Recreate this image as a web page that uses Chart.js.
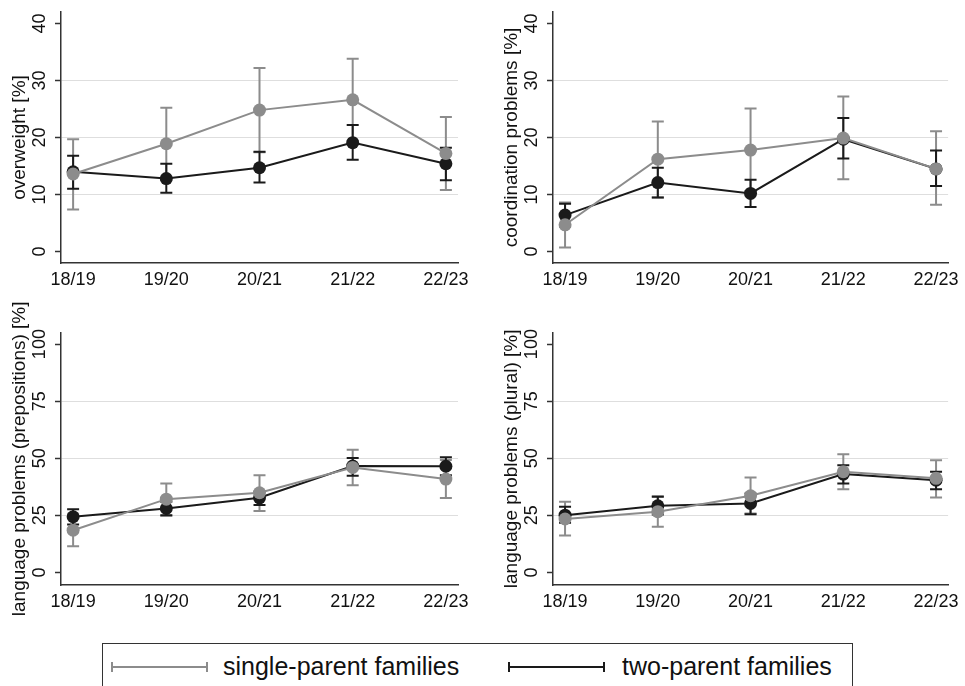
<!DOCTYPE html>
<html>
<head>
<meta charset="utf-8">
<script src="https://cdn.jsdelivr.net/npm/chart.js@4.4.1/dist/chart.umd.min.js"></script>
<style>
  body { margin: 0; width: 965px; height: 686px; background: #fff; position: relative; overflow: hidden;
         font-family: "Liberation Sans", Arial, sans-serif; }
  canvas { position: absolute; }
  #legendBox { position: absolute; left: 102px; top: 643px; width: 749px; height: 60px; border: 1.5px solid #333; }
  .key { position: absolute; height: 2px; width: 97px; top: 666px; }
  .key::before, .key::after { content: ""; position: absolute; top: -4px; width: 2px; height: 10px; background: inherit; }
  .key::before { left: 0; }
  .key::after { right: 0; }
  .keyText { position: absolute; top: 654px; font-size: 25px; line-height: 25px; color: #111; white-space: nowrap; }
</style>
</head>
<body>

<canvas id="c1" width="482" height="300" style="left:0;top:0"></canvas>
<canvas id="c2" width="483" height="300" style="left:482px;top:0"></canvas>
<canvas id="c3" width="482" height="320" style="left:0;top:300px"></canvas>
<canvas id="c4" width="483" height="320" style="left:482px;top:300px"></canvas>

<div id="legendBox"></div>
<div class="key" style="left:111px;background:#8c8c8c"></div>
<div class="keyText" style="left:223px">single-parent families</div>
<div class="key" style="left:508px;background:#1a1a1a"></div>
<div class="keyText" style="left:622px">two-parent families</div>

<script>
/* ==========================================
   DATA
========================================== */

const seasons = ["18/19", "19/20", "20/21", "21/22", "22/23"];

const ticksSmall = [0, 10, 20, 30, 40];
const ticksLarge = [0, 25, 50, 75, 100];

/* overweight */
const owSingle   = [13.6, 18.9, 24.8, 26.6, 17.2];
const owSingleLo = [7.4, 12.6, 17.4, 19.4, 10.8];
const owSingleHi = [19.7, 25.2, 32.2, 33.8, 23.6];
const owTwo      = [14.0, 12.8, 14.7, 19.1, 15.4];
const owTwoLo    = [11.0, 10.3, 12.1, 16.1, 12.5];
const owTwoHi    = [16.8, 15.4, 17.5, 22.2, 18.2];

/* coordination problems */
const coSingle   = [4.7, 16.2, 17.8, 19.9, 14.5];
const coSingleLo = [0.7, 9.5, 10.6, 12.7, 8.2];
const coSingleHi = [8.6, 22.8, 25.1, 27.2, 21.1];
const coTwo      = [6.4, 12.1, 10.2, 19.7, 14.5];
const coTwoLo    = [4.4, 9.5, 7.8, 16.3, 11.5];
const coTwoHi    = [8.4, 14.7, 12.6, 23.4, 17.7];

/* language problems (prepositions) */
const prSingle   = [18.5, 32.1, 34.9, 46.0, 40.9];
const prSingleLo = [11.5, 24.8, 26.9, 38.2, 32.6];
const prSingleHi = [25.5, 39.0, 42.6, 53.7, 49.2];
const prTwo      = [24.4, 28.0, 32.7, 46.6, 46.5];
const prTwoLo    = [21.0, 25.1, 29.5, 42.3, 42.6];
const prTwoHi    = [27.7, 31.0, 35.5, 50.1, 50.4];

/* language problems (plural) */
const plSingle   = [23.4, 26.6, 33.6, 44.1, 41.2];
const plSingleLo = [16.2, 20.0, 25.8, 36.4, 32.8];
const plSingleHi = [31.0, 33.4, 41.6, 51.8, 49.1];
const plTwo      = [25.1, 29.2, 30.2, 43.1, 40.4];
const plTwoLo    = [21.8, 25.4, 25.5, 39.0, 36.4];
const plTwoHi    = [28.8, 33.1, 34.6, 47.0, 44.1];

/* ==========================================
   STYLE
========================================== */

const GRAY = "#8c8c8c";
const BLACK = "#1a1a1a";
const AXIS = "#333";
const FONT = '"Liberation Sans", Arial, sans-serif';

/* ==========================================
   PLUGINS
========================================== */

/* ERROR BARS (drawn under the lines) */
const errorBars = {
  id: "errorBars",
  beforeDatasetsDraw(chart) {
    const ctx = chart.ctx;
    const xs = chart.scales.x;
    const ys = chart.scales.y;

    chart.data.datasets.forEach((ds) => {
      ctx.save();
      ctx.strokeStyle = ds.borderColor;
      ctx.lineWidth = 2;
      ds.lo.forEach((lo, i) => {
        const x = xs.getPixelForValue(i);
        const y1 = ys.getPixelForValue(lo);
        const y2 = ys.getPixelForValue(ds.hi[i]);
        ctx.beginPath();
        ctx.moveTo(x, y1);
        ctx.lineTo(x, y2);
        ctx.moveTo(x - 6, y1);
        ctx.lineTo(x + 6, y1);
        ctx.moveTo(x - 6, y2);
        ctx.lineTo(x + 6, y2);
        ctx.stroke();
      });
      ctx.restore();
    });
  }
};

/* ROTATED Y TICK LABELS */
const yLabels = {
  id: "yLabels",
  afterDraw(chart) {
    const ctx = chart.ctx;
    const s = chart.scales.y;
    ctx.save();
    ctx.fillStyle = "#111";
    ctx.font = "18px " + FONT;
    ctx.textAlign = "center";
    ctx.textBaseline = "middle";
    s.ticks.forEach((t) => {
      ctx.save();
      ctx.translate(s.right - 20.5, s.getPixelForValue(t.value));
      ctx.rotate(-Math.PI / 2);
      ctx.fillText(String(t.value), 0, 0);
      ctx.restore();
    });
    ctx.restore();
  }
};

/* ==========================================
   PANEL BUILDER
========================================== */

function points(values) {
  return values.map((v, i) => ({ x: i, y: v }));
}

function makePanel(id, area, yMin, yMax, yTicks, title, single, singleLo, singleHi, two, twoLo, twoHi) {

  const canvas = document.getElementById(id);
  const w = canvas.width;
  const h = canvas.height;

  new Chart(canvas, {
    type: "line",

    data: {
      datasets: [
        {
          data: points(single),
          lo: singleLo,
          hi: singleHi,
          borderColor: GRAY,
          backgroundColor: GRAY,
          pointBackgroundColor: GRAY
        },
        {
          data: points(two),
          lo: twoLo,
          hi: twoHi,
          borderColor: BLACK,
          backgroundColor: BLACK,
          pointBackgroundColor: BLACK
        }
      ]
    },

    options: {
      responsive: false,
      animation: false,
      devicePixelRatio: 1,

      layout: {
        padding: { top: area.top, right: w - area.right, bottom: 0, left: 0 }
      },

      elements: {
        line: { borderWidth: 2, tension: 0 },
        point: { radius: 6.5, borderWidth: 0, hoverRadius: 6.5 }
      },

      scales: {
        x: {
          type: "linear",
          min: -0.13,
          max: 4.13,
          afterFit: (s) => { s.height = h - area.bottom; },
          afterBuildTicks: (s) => { s.ticks = seasons.map((_, i) => ({ value: i })); },
          grid: { display: false, drawTicks: false },
          border: { display: true, color: AXIS, width: 1.5 },
          ticks: {
            padding: 6,
            color: "#111",
            font: { family: FONT, size: 18 },
            maxRotation: 0,
            callback: (v) => seasons[v]
          }
        },
        y: {
          min: yMin,
          max: yMax,
          afterFit: (s) => { s.width = area.left; },
          afterBuildTicks: (s) => { s.ticks = yTicks.map((v) => ({ value: v })); },
          grid: {
            color: (c) => (c.tick && c.tick.value > yTicks[0] && c.tick.value < yTicks[yTicks.length - 1]) ? "#dedede" : "rgba(0,0,0,0)",
            lineWidth: 1,
            drawTicks: true,
            tickLength: 6,
            tickColor: AXIS,
            tickWidth: 1.5
          },
          border: { display: true, color: AXIS, width: 1.5 },
          ticks: { display: false },
          title: {
            display: true,
            text: title,
            color: "#111",
            font: { family: FONT, size: 19 },
            padding: { top: area.left - 41 - 11.4, bottom: 0 }
          }
        }
      },

      plugins: {
        legend: { display: false },
        tooltip: { enabled: false }
      }
    },

    plugins: [errorBars, yLabels]
  });
}

/* ==========================================
   FOUR PANELS
========================================== */

makePanel("c1", { left: 61, top: 12, right: 458, bottom: 263 }, -2, 42, ticksSmall,
  "overweight [%]", owSingle, owSingleLo, owSingleHi, owTwo, owTwoLo, owTwoHi);

makePanel("c2", { left: 71, top: 12, right: 469, bottom: 263 }, -2, 42, ticksSmall,
  "coordination problems [%]", coSingle, coSingleLo, coSingleHi, coTwo, coTwoLo, coTwoHi);

makePanel("c3", { left: 61, top: 32.7, right: 458, bottom: 285 }, -5.5, 105, ticksLarge,
  "language problems (prepositions) [%]", prSingle, prSingleLo, prSingleHi, prTwo, prTwoLo, prTwoHi);

makePanel("c4", { left: 71, top: 32.7, right: 469, bottom: 285 }, -5.5, 105, ticksLarge,
  "language problems (plural) [%]", plSingle, plSingleLo, plSingleHi, plTwo, plTwoLo, plTwoHi);
</script>
</body>
</html>
